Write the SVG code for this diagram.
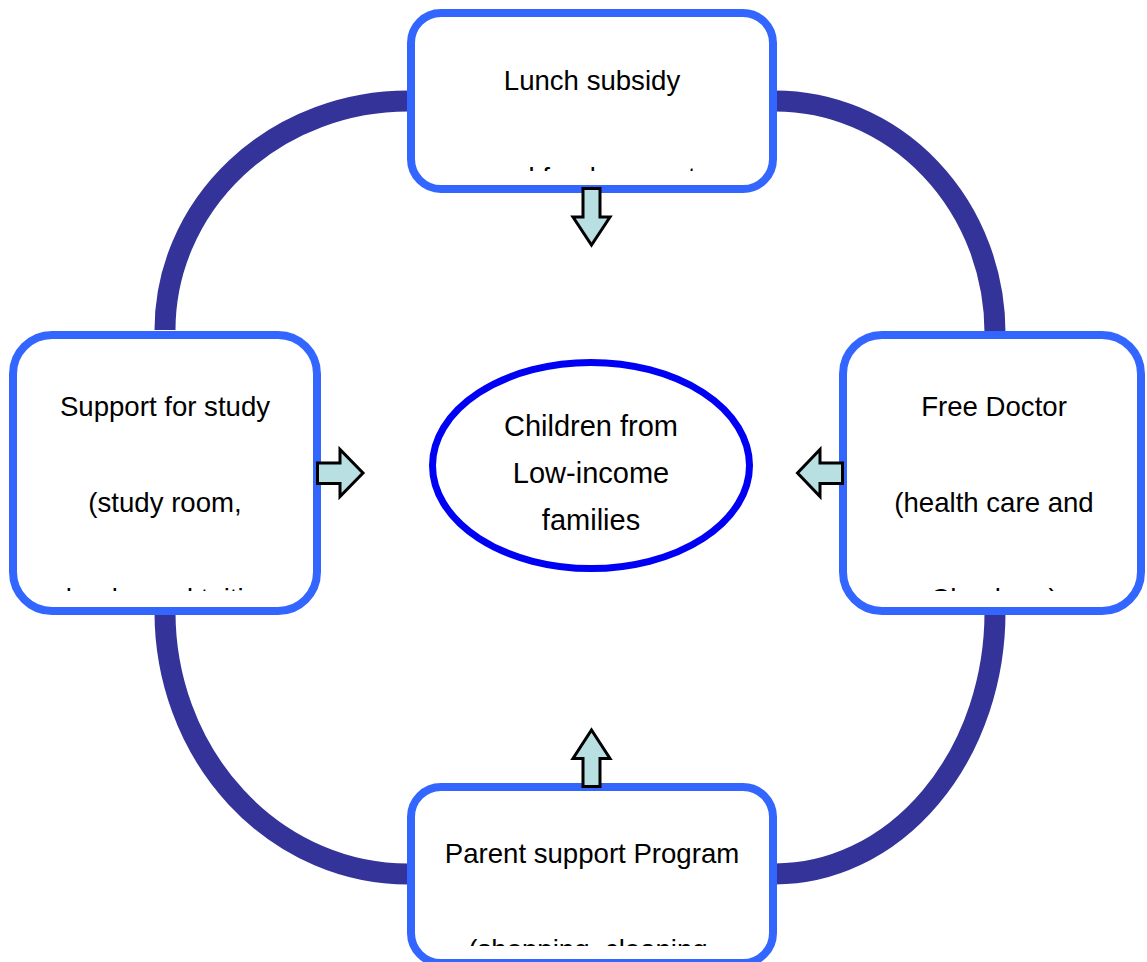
<svg xmlns="http://www.w3.org/2000/svg" width="1147" height="962" viewBox="0 0 1147 962">
  <style>
    .ring { fill: none; stroke: #333399; stroke-width: 21; }
    .box { fill: #ffffff; stroke: #3366ff; stroke-width: 8; }
    .label { font-family: "Liberation Sans", Arial, sans-serif; font-size: 27.6px; fill: #000000; text-anchor: middle; }
    .core-label { font-family: "Liberation Sans", Arial, sans-serif; font-size: 29px; fill: #000000; text-anchor: middle; }
    .core { fill: #ffffff; stroke: #0000f5; stroke-width: 7; }
    .push { fill: #b8dfe1; stroke: #000000; stroke-width: 3; stroke-linejoin: miter; }
  </style>
  <defs>
    <clipPath id="clip-top"><rect x="415" y="17" width="354" height="154"/></clipPath>
    <clipPath id="clip-left"><rect x="17" y="339" width="296" height="252"/></clipPath>
    <clipPath id="clip-right"><rect x="847" y="339" width="290" height="252"/></clipPath>
    <clipPath id="clip-bottom"><rect x="415" y="791" width="354" height="155"/></clipPath>
  </defs>
  <rect width="1147" height="962" fill="#ffffff"/>

  <!-- ring of curved connectors joining the four service boxes -->
  <g id="connectors">
    <path class="ring" d="M408,101 A243,229 0 0 0 165,330"/>
    <path class="ring" d="M775,101 A220,232 0 0 1 995,333"/>
    <path class="ring" d="M995,612 A220,262 0 0 1 775,874"/>
    <path class="ring" d="M165,612 A243,262 0 0 0 408,874"/>
  </g>

  <g id="lunch">
    <rect class="box" x="411" y="13" width="362" height="176" rx="30"/>
    <g clip-path="url(#clip-top)">
      <text class="label" x="592" y="90">Lunch subsidy</text>
      <text class="label" x="592" y="187">and food support</text>
    </g>
  </g>

  <g id="study">
    <rect class="box" x="13" y="335" width="304" height="276" rx="39"/>
    <g clip-path="url(#clip-left)">
      <text class="label" x="165" y="416">Support for study</text>
      <text class="label" x="165" y="512">(study room,</text>
      <text class="label" x="170" y="608">books and tuition</text>
    </g>
  </g>

  <g id="doctor">
    <rect class="box" x="843" y="335" width="298" height="276" rx="39"/>
    <g clip-path="url(#clip-right)">
      <text class="label" x="994" y="416">Free Doctor</text>
      <text class="label" x="994" y="512">(health care and</text>
      <text class="label" x="994" y="608">Check-up)</text>
    </g>
  </g>

  <g id="parent">
    <rect class="box" x="411" y="787" width="362" height="176" rx="30"/>
    <g clip-path="url(#clip-bottom)">
      <text class="label" x="592" y="863">Parent support Program</text>
      <text class="label" x="588" y="959">(shopping, cleaning</text>
    </g>
  </g>

  <g id="children">
    <ellipse class="core" cx="591" cy="465.5" rx="158.5" ry="103"/>
    <text class="core-label" x="591" y="436">Children from</text>
    <text class="core-label" x="591" y="483">Low-income</text>
    <text class="core-label" x="591" y="530">families</text>
  </g>

  <!-- block arrows pointing into the centre -->
  <g id="arrows">
    <polygon class="push" points="583,188.5 600,188.5 600,217 610,217 591.5,245 573,217 583,217"/>
    <polygon class="push" points="317.5,463 340,463 340,449.5 363,473 340,496.5 340,483.5 317.5,483.5"/>
    <polygon class="push" points="842.5,463 820,463 820,449.5 797.5,473 820,496.5 820,483.5 842.5,483.5"/>
    <polygon class="push" points="583,786.5 583,758.5 573,758.5 591.5,730 610,758.5 600,758.5 600,786.5"/>
  </g>
</svg>
